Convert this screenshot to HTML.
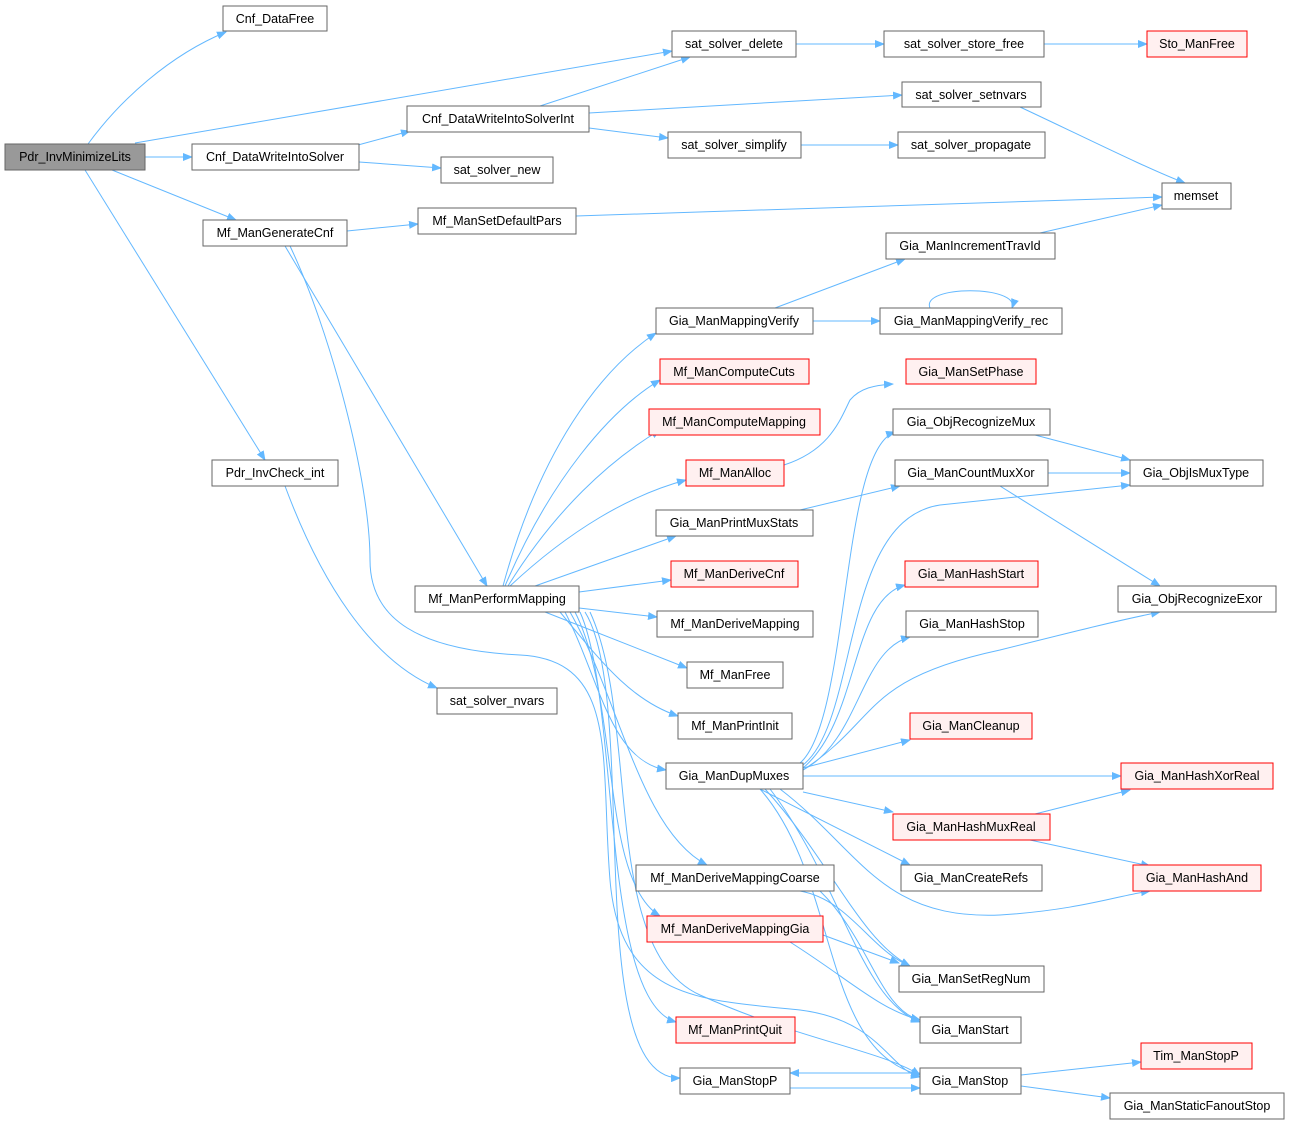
<!DOCTYPE html>
<html><head><meta charset="utf-8"><style>
html,body{margin:0;padding:0;background:#fff;}
svg{display:block;}
text{font-family:"Liberation Sans",Arial,sans-serif;font-size:12.5px;fill:#000;text-anchor:middle;}
.n{fill:#fff;stroke:#666;stroke-width:1;}
.r{fill:#fff0f0;stroke:#f00;stroke-width:1;}
.g{fill:#999;stroke:#666;stroke-width:1;}
path.e{fill:none;stroke:#63b8ff;stroke-width:1;marker-end:url(#a);}
</style></head><body>
<svg width="1290" height="1125" viewBox="0 0 1290 1125" xmlns="http://www.w3.org/2000/svg">
<defs><marker id="a" markerWidth="10" markerHeight="8" refX="9" refY="4" orient="auto" markerUnits="userSpaceOnUse"><path d="M0,0 L10,4 L0,8 z" fill="#63b8ff"/></marker></defs>
<g>
<path class="e" d="M88,144 C120,100 170,55 226,32"/>
<path class="e" d="M135,143 L672,51"/>
<path class="e" d="M145,157 L192,157"/>
<path class="e" d="M112,170 L236,220"/>
<path class="e" d="M85,170 L265,460"/>
<path class="e" d="M358,145 L410,131"/>
<path class="e" d="M359,162 L441,168"/>
<path class="e" d="M540,106 L690,57"/>
<path class="e" d="M589,113 L902,95"/>
<path class="e" d="M589,128 L668,138"/>
<path class="e" d="M796,44 L884,44"/>
<path class="e" d="M1044,44 L1147,44"/>
<path class="e" d="M801,145 L898,145"/>
<path class="e" d="M1020,107 C1080,135 1150,170 1185,183"/>
<path class="e" d="M576,216 L1162,197"/>
<path class="e" d="M1040,233 L1162,205"/>
<path class="e" d="M347,231 L418,224"/>
<path class="e" d="M285,246 L487,586"/>
<path class="e" d="M290,246 C330,330 370,480 370,560 C370,620 420,650 520,655 C620,660 600,760 610,880 C620,1000 700,1000 800,1010 C880,1020 890,1070 920,1077"/>
<path class="e" d="M285,486 C320,580 370,660 437,688"/>
<path class="e" d="M503,586 C540,450 600,370 656,333"/>
<path class="e" d="M505,586 C550,480 610,410 660,380"/>
<path class="e" d="M508,586 C555,510 610,460 660,430"/>
<path class="e" d="M510,586 C570,530 630,495 686,480"/>
<path class="e" d="M535,586 L676,536"/>
<path class="e" d="M579,592 L671,580"/>
<path class="e" d="M579,608 L657,617"/>
<path class="e" d="M545,612 L687,668"/>
<path class="e" d="M560,612 C600,660 630,700 678,716"/>
<path class="e" d="M565,612 C600,680 610,760 666,770"/>
<path class="e" d="M570,612 C620,700 640,830 707,865"/>
<path class="e" d="M575,612 C620,700 600,880 660,916"/>
<path class="e" d="M580,612 C620,700 600,1000 676,1022"/>
<path class="e" d="M585,612 C640,700 580,1080 680,1078"/>
<path class="e" d="M590,612 C640,720 600,950 700,995 C800,1040 880,1050 920,1075"/>
<path class="e" d="M775,308 L905,259"/>
<path class="e" d="M813,321 L880,321"/>
<path class="e" d="M930,308 C920,285 1020,285 1012,308"/>
<path class="e" d="M784,465 C830,450 840,420 850,400 C860,388 875,385 893,384"/>
<path class="e" d="M1048,473 L1130,473"/>
<path class="e" d="M1035,435 L1130,460"/>
<path class="e" d="M1000,486 L1160,586"/>
<path class="e" d="M800,510 L900,486"/>
<path class="e" d="M800,763 C850,720 840,450 895,432"/>
<path class="e" d="M803,765 C860,720 840,520 940,505 L1130,485"/>
<path class="e" d="M803,768 C860,720 850,600 905,585"/>
<path class="e" d="M803,770 C860,740 860,650 910,637"/>
<path class="e" d="M803,770 C880,720 860,680 1000,650 C1080,630 1120,620 1160,612"/>
<path class="e" d="M803,768 L910,740"/>
<path class="e" d="M803,776 L1121,776"/>
<path class="e" d="M803,792 L893,812"/>
<path class="e" d="M760,789 L910,865"/>
<path class="e" d="M780,789 C860,850 880,920 1000,915 C1080,910 1120,895 1150,891"/>
<path class="e" d="M765,789 C830,860 860,940 910,966"/>
<path class="e" d="M770,789 C840,880 860,1000 920,1022"/>
<path class="e" d="M760,789 C840,880 820,1050 920,1075"/>
<path class="e" d="M1035,814 L1130,790"/>
<path class="e" d="M1030,840 L1150,866"/>
<path class="e" d="M800,891 C850,900 870,950 910,966"/>
<path class="e" d="M820,891 C870,940 880,1010 920,1020"/>
<path class="e" d="M823,935 L899,963"/>
<path class="e" d="M790,942 C850,980 880,1010 920,1020"/>
<path class="e" d="M1021,1075 L1141,1062"/>
<path class="e" d="M1021,1086 L1110,1098"/>
<path class="e" d="M920,1073 L790,1073"/>
<path class="e" d="M790,1088 L920,1088"/>
</g>
<g>
<rect class="g" x="5" y="144" width="140" height="26"/><text x="75" y="161">Pdr_InvMinimizeLits</text>
<rect class="n" x="223" y="6" width="104" height="25"/><text x="275" y="23">Cnf_DataFree</text>
<rect class="n" x="672" y="31" width="124" height="26"/><text x="734" y="48">sat_solver_delete</text>
<rect class="n" x="884" y="31" width="160" height="26"/><text x="964" y="48">sat_solver_store_free</text>
<rect class="r" x="1147" y="31" width="100" height="26"/><text x="1197" y="48">Sto_ManFree</text>
<rect class="n" x="407" y="106" width="182" height="26"/><text x="498" y="123">Cnf_DataWriteIntoSolverInt</text>
<rect class="n" x="902" y="82" width="139" height="25"/><text x="971" y="99">sat_solver_setnvars</text>
<rect class="n" x="192" y="144" width="167" height="26"/><text x="275" y="161">Cnf_DataWriteIntoSolver</text>
<rect class="n" x="441" y="157" width="112" height="26"/><text x="497" y="174">sat_solver_new</text>
<rect class="n" x="668" y="132" width="133" height="26"/><text x="734" y="149">sat_solver_simplify</text>
<rect class="n" x="898" y="132" width="147" height="26"/><text x="971" y="149">sat_solver_propagate</text>
<rect class="n" x="1162" y="183" width="69" height="26"/><text x="1196" y="200">memset</text>
<rect class="n" x="203" y="220" width="144" height="26"/><text x="275" y="237">Mf_ManGenerateCnf</text>
<rect class="n" x="418" y="208" width="158" height="26"/><text x="497" y="225">Mf_ManSetDefaultPars</text>
<rect class="n" x="886" y="233" width="169" height="26"/><text x="970" y="250">Gia_ManIncrementTravId</text>
<rect class="n" x="656" y="308" width="157" height="26"/><text x="734" y="325">Gia_ManMappingVerify</text>
<rect class="n" x="880" y="308" width="182" height="26"/><text x="971" y="325">Gia_ManMappingVerify_rec</text>
<rect class="r" x="660" y="359" width="149" height="25"/><text x="734" y="376">Mf_ManComputeCuts</text>
<rect class="r" x="906" y="359" width="130" height="25"/><text x="971" y="376">Gia_ManSetPhase</text>
<rect class="r" x="649" y="409" width="171" height="26"/><text x="734" y="426">Mf_ManComputeMapping</text>
<rect class="n" x="893" y="409" width="157" height="26"/><text x="971" y="426">Gia_ObjRecognizeMux</text>
<rect class="n" x="212" y="460" width="126" height="26"/><text x="275" y="477">Pdr_InvCheck_int</text>
<rect class="r" x="686" y="460" width="98" height="26"/><text x="735" y="477">Mf_ManAlloc</text>
<rect class="n" x="895" y="460" width="153" height="26"/><text x="971" y="477">Gia_ManCountMuxXor</text>
<rect class="n" x="1130" y="460" width="133" height="26"/><text x="1196" y="477">Gia_ObjIsMuxType</text>
<rect class="n" x="656" y="510" width="157" height="26"/><text x="734" y="527">Gia_ManPrintMuxStats</text>
<rect class="r" x="671" y="561" width="127" height="26"/><text x="734" y="578">Mf_ManDeriveCnf</text>
<rect class="r" x="905" y="561" width="133" height="26"/><text x="971" y="578">Gia_ManHashStart</text>
<rect class="n" x="415" y="586" width="164" height="26"/><text x="497" y="603">Mf_ManPerformMapping</text>
<rect class="n" x="1118" y="586" width="158" height="26"/><text x="1197" y="603">Gia_ObjRecognizeExor</text>
<rect class="n" x="657" y="611" width="156" height="26"/><text x="735" y="628">Mf_ManDeriveMapping</text>
<rect class="n" x="906" y="611" width="132" height="26"/><text x="972" y="628">Gia_ManHashStop</text>
<rect class="n" x="687" y="662" width="96" height="26"/><text x="735" y="679">Mf_ManFree</text>
<rect class="n" x="437" y="688" width="120" height="26"/><text x="497" y="705">sat_solver_nvars</text>
<rect class="n" x="678" y="713" width="114" height="26"/><text x="735" y="730">Mf_ManPrintInit</text>
<rect class="r" x="910" y="713" width="122" height="26"/><text x="971" y="730">Gia_ManCleanup</text>
<rect class="n" x="666" y="763" width="137" height="26"/><text x="734" y="780">Gia_ManDupMuxes</text>
<rect class="r" x="1121" y="763" width="152" height="26"/><text x="1197" y="780">Gia_ManHashXorReal</text>
<rect class="r" x="893" y="814" width="157" height="26"/><text x="971" y="831">Gia_ManHashMuxReal</text>
<rect class="n" x="636" y="865" width="198" height="26"/><text x="735" y="882">Mf_ManDeriveMappingCoarse</text>
<rect class="n" x="901" y="865" width="141" height="26"/><text x="971" y="882">Gia_ManCreateRefs</text>
<rect class="r" x="1133" y="865" width="128" height="26"/><text x="1197" y="882">Gia_ManHashAnd</text>
<rect class="r" x="647" y="916" width="176" height="26"/><text x="735" y="933">Mf_ManDeriveMappingGia</text>
<rect class="n" x="899" y="966" width="145" height="26"/><text x="971" y="983">Gia_ManSetRegNum</text>
<rect class="r" x="676" y="1017" width="119" height="26"/><text x="735" y="1034">Mf_ManPrintQuit</text>
<rect class="n" x="920" y="1017" width="101" height="26"/><text x="970" y="1034">Gia_ManStart</text>
<rect class="r" x="1141" y="1043" width="111" height="26"/><text x="1196" y="1060">Tim_ManStopP</text>
<rect class="n" x="680" y="1068" width="110" height="26"/><text x="735" y="1085">Gia_ManStopP</text>
<rect class="n" x="920" y="1068" width="101" height="26"/><text x="970" y="1085">Gia_ManStop</text>
<rect class="n" x="1110" y="1093" width="174" height="26"/><text x="1197" y="1110">Gia_ManStaticFanoutStop</text>
</g>
</svg>
</body></html>
